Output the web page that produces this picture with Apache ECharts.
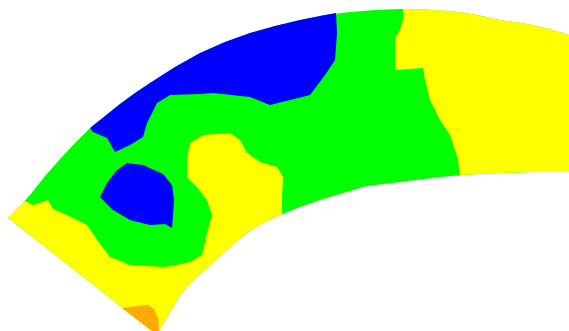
<!DOCTYPE html>
<html>
<head>
<meta charset="utf-8">
<script src="https://cdn.jsdelivr.net/npm/echarts@6/dist/echarts.min.js"></script>
<style>
  html, body { margin: 0; padding: 0; background: #ffffff; }
  #chart { width: 569px; height: 331px; }
</style>
</head>
<body>
<div id="chart"></div>
<script>
// Curved section, plane coordinates (x to the right, y downward), in metres.
const outerEdge = [
  [0.8, 21.8], [2.0, 20.6], [3.0, 19.5], [4.5, 17.6], [6.0, 15.9], [7.5, 14.3],
  [9.0, 12.8], [10.5, 11.6], [12.0, 10.4], [13.5, 9.3], [15.0, 8.3], [17.5, 6.7],
  [20.0, 5.3], [22.5, 4.2], [25.0, 3.3], [27.5, 2.6], [30.0, 2.0], [32.5, 1.5],
  [35.0, 1.2], [37.5, 1.0], [40.0, 0.9], [42.5, 0.95], [45.0, 1.1], [47.5, 1.45],
  [50.0, 2.0], [52.5, 2.35], [55.0, 2.9], [56.9, 3.5]
];
const innerEdge = [
  [15.7, 33.5], [18.0, 29.5], [19.6, 27.8], [21.3, 26.3], [23.0, 24.7], [24.7, 23.3],
  [26.3, 22.3], [28.0, 21.5], [30.0, 20.7], [32.0, 20.0], [34.3, 19.3], [36.7, 18.6],
  [40.0, 18.2], [44.0, 17.7], [47.0, 17.45], [50.0, 17.3], [53.5, 17.2], [56.9, 17.2]
];

// Contour band boundaries that run through the interior of the section.
const yellowWestFront = [
  [28.2, 21.4], [28.2, 19.7], [28.3, 17.7], [27.7, 16.7], [26.0, 16.2], [24.7, 15.3],
  [24.0, 14.0], [23.0, 13.3], [20.3, 13.5], [19.0, 14.3], [18.7, 15.7], [18.7, 17.7],
  [19.7, 18.7], [20.7, 20.0], [21.2, 21.5], [20.7, 23.3], [20.2, 25.5], [19.0, 26.2],
  [16.5, 26.7], [13.0, 26.5], [11.0, 25.7], [9.7, 24.0], [8.7, 22.5], [6.7, 21.5],
  [5.3, 20.9], [4.8, 20.0], [3.3, 20.5], [2.5, 20.1]
];
const yellowEastFront = [
  [46.0, 17.5], [45.8, 16.0], [45.5, 15.0], [45.0, 13.5], [44.0, 12.0], [43.0, 10.0],
  [42.5, 8.0], [42.3, 6.8], [39.5, 7.0], [39.5, 3.8], [40.0, 3.0], [40.3, 2.0], [40.3, 0.9]
];
const blueNorthFront = [
  [33.6, 1.3], [33.7, 3.3], [33.5, 6.0], [32.5, 7.5], [31.0, 9.5], [29.0, 10.0],
  [27.0, 10.5], [25.0, 9.7], [21.3, 9.3], [20.0, 9.4], [17.0, 9.5], [15.7, 10.3],
  [14.7, 12.3], [14.3, 13.7], [13.0, 14.5], [11.5, 15.2], [10.7, 13.8], [9.3, 13.2]
];
const blueSouthLoop = [
  [10.0, 19.7], [10.7, 18.3], [11.7, 17.0], [12.7, 16.3], [14.3, 16.5], [16.3, 17.4],
  [17.2, 18.5], [17.4, 20.0], [17.3, 21.5], [17.2, 22.8], [16.5, 22.4], [15.0, 22.5],
  [13.0, 22.0], [11.3, 21.0]
];
const orangeFront = [
  [12.2, 30.8], [13.7, 30.6], [14.8, 30.5], [15.4, 30.9], [15.8, 31.8], [15.9, 33.0], [15.7, 33.5]
];

// Band index of each region (1 lowest .. 4 highest) and band colours.
const regionLevels = [2, 3, 3, 1, 1, 4];
const bandLevels = [1, 2, 3, 4];
const bandColors = ['#0000ff', '#00ff00', '#ffff00', '#ffaa00'];

// Points of an edge whose x lies between a and b, ordered from a towards b.
function edgeSpan(edge, a, b) {
  const lo = Math.min(a, b), hi = Math.max(a, b);
  const pts = edge.filter(p => p[0] >= lo && p[0] <= hi);
  return a <= b ? pts : pts.slice().reverse();
}

const sectionOutline = outerEdge.concat(innerEdge.slice().reverse());
const yellowWest = [].concat(
  edgeSpan(outerEdge, 2.5, 0),
  edgeSpan(innerEdge, 0, 28.1),
  yellowWestFront
);
const yellowEast = [].concat(
  edgeSpan(outerEdge, 40.4, 60),
  edgeSpan(innerEdge, 60, 46.1),
  yellowEastFront
);
const blueNorth = [].concat(edgeSpan(outerEdge, 9.0, 33.5), blueNorthFront);
const orangeTip = orangeFront.slice();

const regions = [sectionOutline, yellowWest, yellowEast, blueNorth, blueSouthLoop, orangeTip];

const chart = echarts.init(document.getElementById('chart'), null, { renderer: 'canvas' });
chart.setOption({
  animation: false,
  backgroundColor: '#ffffff',
  grid: { left: 0, right: 0, top: 0, bottom: 0 },
  xAxis: { type: 'value', min: 0, max: 56.9, show: false },
  yAxis: { type: 'value', min: 0, max: 33.1, inverse: true, show: false },
  visualMap: {
    type: 'piecewise',
    show: false,
    dimension: 1,
    seriesIndex: 0,
    pieces: bandLevels.map((v, i) => ({ value: v, color: bandColors[i] }))
  },
  series: [{
    type: 'custom',
    clip: false,
    dimensions: ['region', 'level'],
    encode: { x: -1, y: -1 },
    data: regionLevels.map((lv, i) => [i, lv]),
    renderItem: function (params, api) {
      const poly = regions[api.value(0)];
      return {
        type: 'polygon',
        shape: { points: poly.map(p => api.coord(p)) },
        style: { fill: api.visual('color'), stroke: null }
      };
    }
  }]
});
</script>
</body>
</html>
